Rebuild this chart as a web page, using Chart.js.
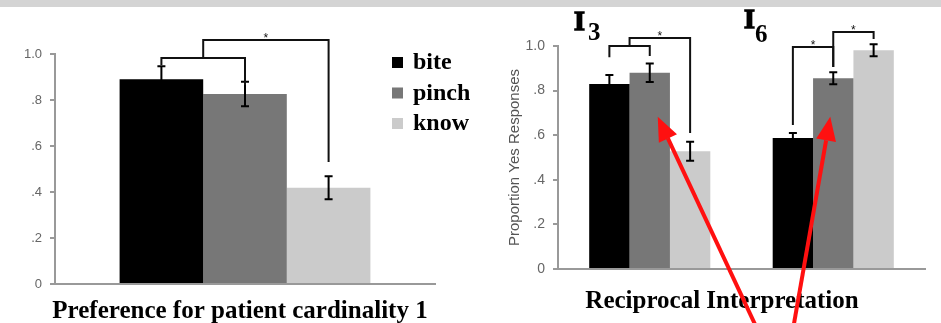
<!DOCTYPE html>
<html>
<head>
<meta charset="utf-8">
<script src="https://cdn.jsdelivr.net/npm/chart.js@4.4.1/dist/chart.umd.min.js"></script>
<style>
  body { margin: 0; width: 941px; height: 323px; overflow: hidden; background: #fff; position: relative; }
  #band { position: absolute; left: 0; top: 0; width: 941px; height: 7px; background: #d4d4d4; }
  #leftChart { position: absolute; left: 0; top: 0; }
  #rightChart { position: absolute; left: 470px; top: 0; }
</style>
</head>
<body>
<div id="band"></div>
<canvas id="leftChart" width="470" height="323"></canvas>
<canvas id="rightChart" width="471" height="323"></canvas>
<script>
// series shared by both panels
var seriesNames = ['bite', 'pinch', 'know'];
var seriesColors = ['#000000', '#777777', '#cbcbcb'];
var tickLabels = ['0', '.2', '.4', '.6', '.8', '1.0'];

// left panel
var leftTitle = 'Preference for patient cardinality 1';
var leftCategories = [''];
var leftBite = [0.89];
var leftPinch = [0.826];
var leftKnow = [0.418];
var leftBiteErr = [0.057];
var leftPinchErr = [0.053];
var leftKnowErr = [0.05];

// right panel
var rightTitle = 'Reciprocal Interpretation';
var rightAxisTitle = 'Proportion Yes Responses';
var rightGroups = ['I3', 'I6'];
var rightBite = [0.83, 0.587];
var rightPinch = [0.88, 0.855];
var rightKnow = [0.528, 0.981];
var rightBiteErr = [0.04, 0.023];
var rightPinchErr = [0.041, 0.027];
var rightKnowErr = [0.043, 0.027];

// significance brackets (dataset index may be fractional = between two bars)
var leftBrackets = [
  {cat: 0, from: 0, to: 1, top: 0.983, endFrom: 0.952, endTo: 0.865, star: false},
  {cat: 0, from: 0.5, to: 2, top: 1.061, endFrom: 0.983, endTo: 0.53, star: true}
];
var rightBrackets = [
  {cat: 0, from: 0, to: 1, top: 1.0, endFrom: 0.95, endTo: 0.955, star: false},
  {cat: 0, from: 0.5, to: 2, top: 1.036, endFrom: 1.0, endTo: 0.61, star: true},
  {cat: 1, from: 0, to: 1, top: 0.996, endFrom: 0.646, endTo: 0.906, star: true},
  {cat: 1, from: 1, to: 2, top: 1.063, endFrom: 0.906, endTo: 1.031, star: true}
];

function makeDatasets(values, errs) {
  return seriesNames.map(function(name, i) {
    return {
      label: name,
      data: values[i],
      errors: errs[i],
      backgroundColor: seriesColors[i],
      borderWidth: 0
    };
  });
}

function barX(chart, ds, cat) {
  var lo = Math.floor(ds), hi = Math.ceil(ds);
  var a = chart.getDatasetMeta(lo).data[cat].x;
  var b = chart.getDatasetMeta(hi).data[cat].x;
  return a + (b - a) * (ds - lo);
}

var errorBars = {
  id: 'errorBars',
  afterDatasetsDraw: function(chart) {
    var ctx = chart.ctx, y = chart.scales.y;
    ctx.save();
    ctx.strokeStyle = '#000';
    ctx.lineWidth = 2;
    chart.data.datasets.forEach(function(ds, i) {
      chart.getDatasetMeta(i).data.forEach(function(bar, j) {
        var top = y.getPixelForValue(ds.data[j] + ds.errors[j]);
        var bot = y.getPixelForValue(ds.data[j] - ds.errors[j]);
        ctx.beginPath();
        ctx.moveTo(bar.x, top); ctx.lineTo(bar.x, bot);
        ctx.moveTo(bar.x - 4, top); ctx.lineTo(bar.x + 4, top);
        ctx.moveTo(bar.x - 4, bot); ctx.lineTo(bar.x + 4, bot);
        ctx.stroke();
      });
    });
    ctx.restore();
  }
};

function bracketPlugin(list) {
  return {
    id: 'brackets',
    afterDatasetsDraw: function(chart) {
      var ctx = chart.ctx, y = chart.scales.y;
      ctx.save();
      ctx.strokeStyle = '#111';
      ctx.fillStyle = '#111';
      ctx.lineWidth = 2;
      ctx.font = '12px "Liberation Sans"';
      ctx.textAlign = 'center';
      list.forEach(function(b) {
        var x1 = barX(chart, b.from, b.cat), x2 = barX(chart, b.to, b.cat);
        var yt = y.getPixelForValue(b.top);
        ctx.beginPath();
        ctx.moveTo(x1, y.getPixelForValue(b.endFrom));
        ctx.lineTo(x1, yt);
        ctx.lineTo(x2, yt);
        ctx.lineTo(x2, y.getPixelForValue(b.endTo));
        ctx.stroke();
        if (b.star) ctx.fillText('*', (x1 + x2) / 2, yt + 2);
      });
      ctx.restore();
    }
  };
}

function captionPlugin(text, x, y) {
  return {
    id: 'caption',
    afterDraw: function(chart) {
      var ctx = chart.ctx;
      ctx.save();
      ctx.font = 'bold 25px "Liberation Serif"';
      ctx.fillStyle = '#000';
      ctx.textAlign = 'center';
      ctx.fillText(text, x, y);
      ctx.restore();
    }
  };
}

var leftLegend = {
  id: 'sideLegend',
  afterDraw: function(chart) {
    var ctx = chart.ctx;
    ctx.save();
    ctx.font = 'bold 24px "Liberation Serif"';
    chart.data.datasets.forEach(function(ds, i) {
      var top = 57 + i * 30.5;
      ctx.fillStyle = ds.backgroundColor;
      ctx.fillRect(392, top, 11, 11);
      ctx.fillStyle = '#000';
      ctx.fillText(ds.label, 413, top + 12);
    });
    ctx.restore();
  }
};

var groupLabels = {
  id: 'groupLabels',
  afterDraw: function(chart) {
    var ctx = chart.ctx;
    var spots = [[104, 30, 118, 40], [274, 28, 285, 42]];
    ctx.save();
    ctx.fillStyle = '#000';
    ctx.strokeStyle = '#000';
    ctx.lineWidth = 1.5;
    chart.data.labels.forEach(function(lbl, i) {
      var p = spots[i];
      ctx.font = 'bold 28px "Liberation Serif"';
      ctx.fillText(lbl.charAt(0), p[0], p[1]);
      ctx.strokeText(lbl.charAt(0), p[0], p[1]);
      ctx.font = 'bold 25px "Liberation Serif"';
      ctx.fillText(lbl.slice(1), p[2], p[3]);
    });
    ctx.restore();
  }
};

var redArrows = {
  id: 'redArrows',
  afterDraw: function(chart) {
    var ctx = chart.ctx, y = chart.scales.y;
    var arrows = [
      {cat: 0, dx: 8, tail: 290},
      {cat: 1, dx: -3, tail: 322}
    ];
    ctx.save();
    ctx.strokeStyle = '#ff1010';
    ctx.fillStyle = '#ff1010';
    ctx.lineWidth = 4;
    arrows.forEach(function(a) {
      var tx = barX(chart, 1, a.cat) + a.dx, ty = y.getPixelForValue(0.683);
      var sx = a.tail, sy = 335;
      var ang = Math.atan2(ty - sy, tx - sx);
      var len = 24, hw = 10;
      var bx = tx - len * Math.cos(ang), by = ty - len * Math.sin(ang);
      ctx.beginPath();
      ctx.moveTo(sx, sy);
      ctx.lineTo(bx, by);
      ctx.stroke();
      ctx.beginPath();
      ctx.moveTo(tx, ty);
      ctx.lineTo(bx + hw * Math.sin(ang), by - hw * Math.cos(ang));
      ctx.lineTo(bx - hw * Math.sin(ang), by + hw * Math.cos(ang));
      ctx.closePath();
      ctx.fill();
    });
    ctx.restore();
  }
};

function yScale(fontSize, width, title) {
  return {
    min: 0,
    max: 1,
    ticks: {
      stepSize: 0.2,
      padding: 8,
      color: '#666',
      font: {family: 'Liberation Sans', size: fontSize},
      callback: function(v, i) { return tickLabels[i]; }
    },
    grid: {drawOnChartArea: false, tickLength: 5, color: '#999', lineWidth: 2},
    border: {color: '#999', width: 2},
    title: title,
    afterFit: function(s) { s.width = width; }
  };
}

var xScale = {
  ticks: {display: false},
  grid: {display: false},
  border: {color: '#999', width: 2},
  afterFit: function(s) { s.height = 0; }
};

new Chart(document.getElementById('leftChart').getContext('2d'), {
  type: 'bar',
  data: {
    labels: leftCategories,
    datasets: makeDatasets([leftBite, leftPinch, leftKnow], [leftBiteErr, leftPinchErr, leftKnowErr])
  },
  options: {
    responsive: false,
    animation: false,
    categoryPercentage: 0.66,
    barPercentage: 1,
    layout: {padding: {top: 54, right: 35, bottom: 39, left: 0}},
    scales: {x: xScale, y: yScale(13, 55, {display: false})},
    plugins: {legend: {display: false}, tooltip: {enabled: false}}
  },
  plugins: [errorBars, bracketPlugin(leftBrackets), leftLegend, captionPlugin(leftTitle, 240, 318)]
});

new Chart(document.getElementById('rightChart').getContext('2d'), {
  type: 'bar',
  data: {
    labels: rightGroups,
    datasets: makeDatasets([rightBite, rightPinch, rightKnow], [rightBiteErr, rightPinchErr, rightKnowErr])
  },
  options: {
    responsive: false,
    animation: false,
    categoryPercentage: 0.66,
    barPercentage: 1,
    layout: {padding: {top: 46, right: 16, bottom: 54, left: 0}},
    scales: {
      x: xScale,
      y: yScale(14, 88, {
        display: true,
        text: rightAxisTitle,
        color: '#555',
        font: {family: 'Liberation Sans', size: 15},
        padding: {top: 36, bottom: 0}
      })
    },
    plugins: {legend: {display: false}, tooltip: {enabled: false}}
  },
  plugins: [errorBars, bracketPlugin(rightBrackets), groupLabels, captionPlugin(rightTitle, 252, 308), redArrows]
});
</script>
</body>
</html>
